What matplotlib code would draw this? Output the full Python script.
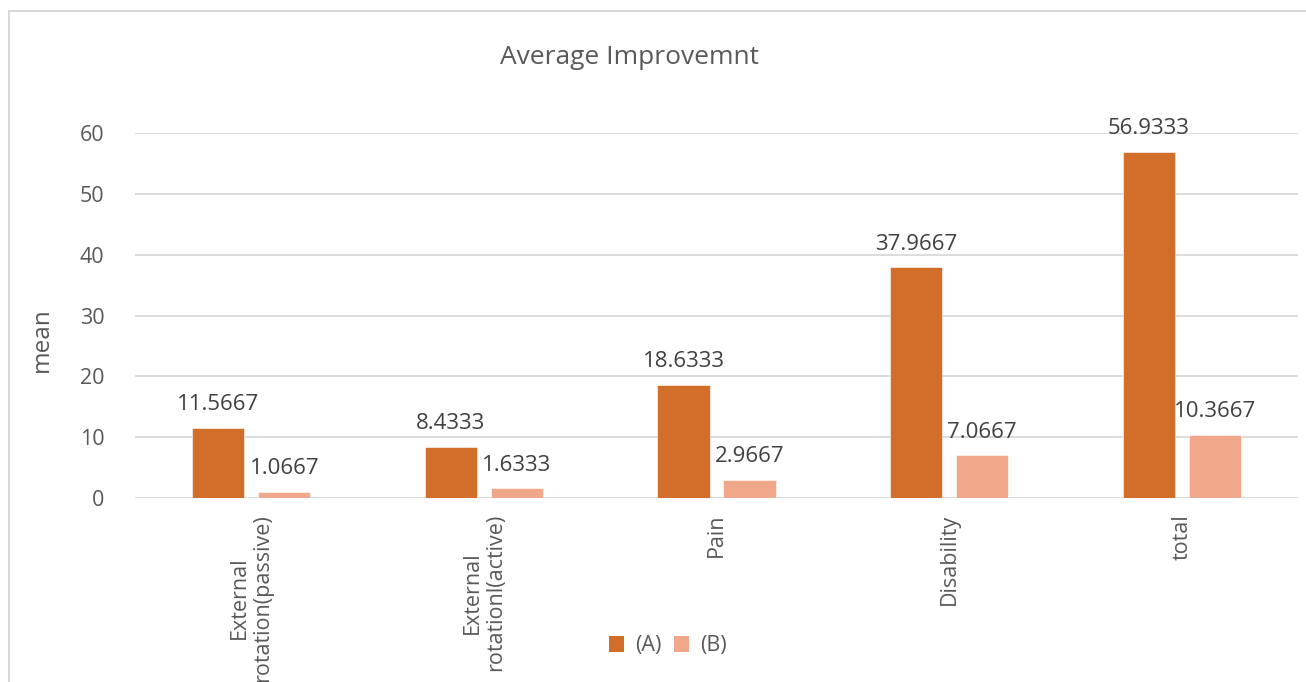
import matplotlib
matplotlib.use("Agg")
import matplotlib.pyplot as plt
from matplotlib.patches import Rectangle, Patch
import numpy as np

categories = ["External\nrotation(passive)", "External\nrotationl(active)", "Pain", "Disability", "total"]
series_names = ["(A)", "(B)"]
values_a = [11.5667, 8.4333, 18.6333, 37.9667, 56.9333]
values_b = [1.0667, 1.6333, 2.9667, 7.0667, 10.3667]
yticks = [0, 10, 20, 30, 40, 50, 60]
title = "Average Improvemnt"
ylabel = "mean"

color_a = "#D26D2A"
color_b = "#F1A78A"
text_col = "#595959"
label_col = "#404040"
grid_col = "#D9D9D9"

plt.rcParams['font.family'] = ['Open Sans', 'DejaVu Sans']

W, H = 1306, 682
fig = plt.figure(figsize=(W / 100, H / 100), dpi=100)
fig.patch.set_facecolor("white")

# chart border
fig.add_artist(Rectangle((9 / W, -0.1), 1.2, 1 - 10.5 / H + 0.1, transform=fig.transFigure,
                         fill=False, edgecolor="#D9D9D9", linewidth=1.5))

ax_l, ax_r = 135 / W, 1298 / W
ax_b, ax_t = 1 - 498 / H, 1 - 133 / H
ax = fig.add_axes([ax_l, ax_b, ax_r - ax_l, ax_t - ax_b])

x = np.arange(len(categories))
bw = 0.224
off = 0.142
bars_a = ax.bar(x - off, values_a, bw, color=color_a, edgecolor="white", linewidth=0.4, zorder=3)
bars_b = ax.bar(x + off, values_b, bw, color=color_b, edgecolor="white", linewidth=0.4, zorder=3)

for bars, vals in ((bars_a, values_a), (bars_b, values_b)):
    for b, v in zip(bars, vals):
        ax.annotate(f"{v:g}", (b.get_x() + b.get_width() / 2, v), xytext=(0, 9),
                    textcoords="offset points", ha="center", va="bottom",
                    fontsize=16, color=label_col, clip_on=False, annotation_clip=False)

ax.set_xlim(-0.5, len(categories) - 0.5)
ax.set_ylim(0, 60)
ax.set_yticks(yticks)
ax.set_yticklabels([str(t) for t in yticks])
ax.yaxis.grid(True, color=grid_col, linewidth=1.3, zorder=0)
ax.set_axisbelow(True)
for s in ax.spines.values():
    s.set_visible(False)
ax.tick_params(axis="y", length=0, pad=22, labelsize=15.5, labelcolor=text_col)
ax.tick_params(axis="x", length=0)
ax.set_xticks(x)
ax.set_xticklabels([])

for xi, cat in zip(x, categories):
    ax.text(xi, -2.6, cat, rotation=90, ha="center", va="top", multialignment="center",
            fontsize=15.5, color=text_col, clip_on=False, linespacing=1.15)

fig.text(629 / W, 1 - 58 / H, title, ha="center", va="center", fontsize=19, color=text_col)
fig.text(42 / W, 1 - 340 / H, ylabel, ha="center", va="center", rotation=90, fontsize=17.5, color=text_col)

handles = [Patch(facecolor=color_a), Patch(facecolor=color_b)]
fig.legend(handles, series_names, loc="center", bbox_to_anchor=(668 / W, 1 - 646 / H), ncol=2,
           frameon=False, fontsize=15.5, labelcolor=text_col, handlelength=0.7, handleheight=0.7,
           handletextpad=0.5, columnspacing=0.6)

fig.savefig("out.png", dpi=100, facecolor="white")
